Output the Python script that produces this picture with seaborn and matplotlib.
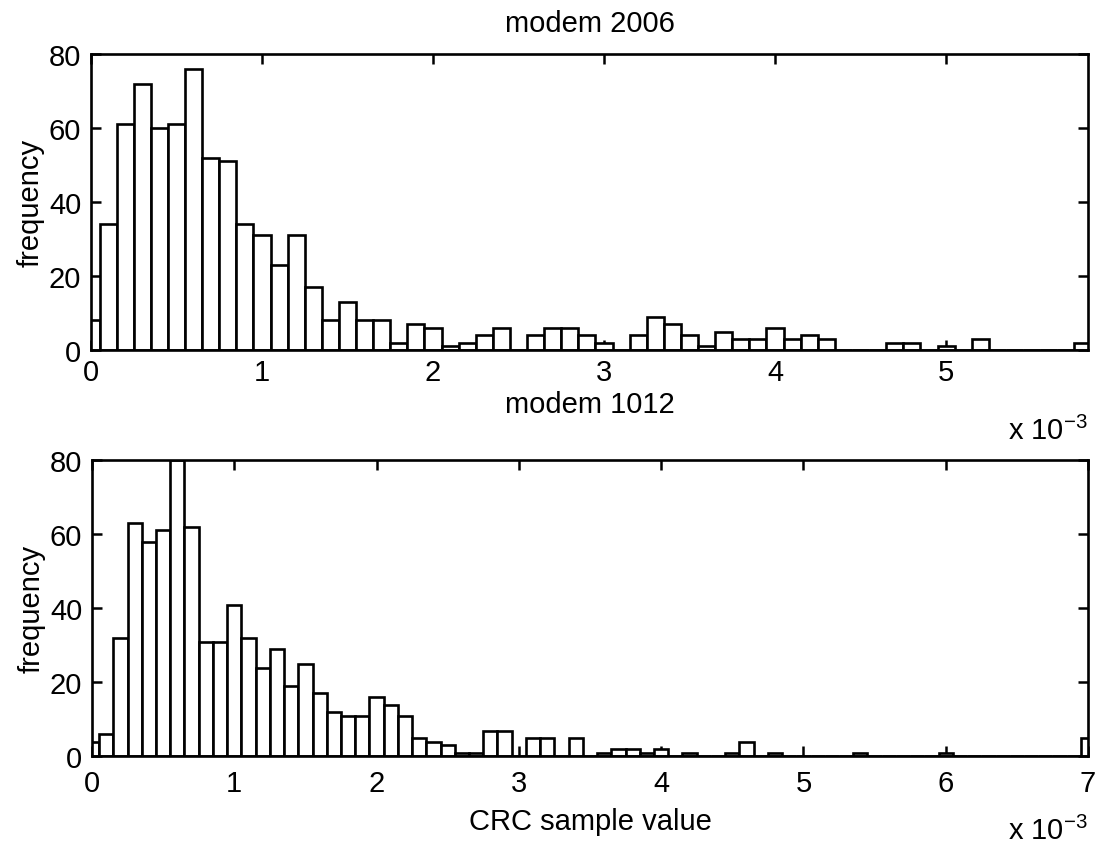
import numpy as np
import pandas as pd
import matplotlib
matplotlib.use("Agg")
import matplotlib.pyplot as plt
import seaborn as sns

# Histogram counts per 0.1e-3 bin, bins centred on 0, 0.1e-3, 0.2e-3, ...
bin_width = 0.1e-3

modem_2006_counts = [
    8, 34, 61, 72, 60, 61, 76, 52, 51, 34,
    31, 23, 31, 17, 8, 13, 8, 8, 2, 7,
    6, 1, 2, 4, 6, 0, 4, 6, 6, 4,
    2, 0, 4, 9, 7, 4, 1, 5, 3, 3,
    6, 3, 4, 3, 0, 0, 0, 2, 2, 0,
    1, 0, 3, 0, 0, 0, 0, 0, 2,
]

modem_1012_counts = [
    4, 6, 32, 63, 58, 61, 80, 62, 31, 31,
    41, 32, 24, 29, 19, 25, 17, 12, 11, 11,
    16, 14, 11, 5, 4, 3, 1, 1, 7, 7,
    0, 5, 5, 0, 5, 0, 1, 2, 2, 1,
    2, 0, 1, 0, 0, 1, 4, 0, 1, 0,
    0, 0, 0, 0, 1, 0, 0, 0, 0, 0,
    1, 0, 0, 0, 0, 0, 0, 0, 0, 0,
    5,
]

panel_titles = ["modem 2006", "modem 1012"]
x_limits = [5.83e-3, 7.0e-3]
x_tick_values = [[0, 1, 2, 3, 4, 5], [0, 1, 2, 3, 4, 5, 6, 7]]
y_tick_values = [0, 20, 40, 60, 80]

FS = 21

sns.set_theme(style="ticks")
plt.rcParams["font.family"] = ["Liberation Sans", "DejaVu Sans"]
plt.rcParams["mathtext.fontset"] = "custom"
plt.rcParams["mathtext.rm"] = "Liberation Sans"
plt.rcParams["mathtext.it"] = "Liberation Sans"
plt.rcParams["text.color"] = "black"
plt.rcParams["axes.labelcolor"] = "black"

fig = plt.figure(figsize=(11.0, 8.45), dpi=100)
ax_top = fig.add_axes([0.0827, 0.5846, 0.9064, 0.3503])
ax_bot = fig.add_axes([0.0836, 0.1036, 0.9055, 0.3508])

panels = [
    (ax_top, modem_2006_counts, panel_titles[0], x_limits[0], x_tick_values[0]),
    (ax_bot, modem_1012_counts, panel_titles[1], x_limits[1], x_tick_values[1]),
]

for i, (ax, counts, title, xmax, xt) in enumerate(panels):
    counts = np.asarray(counts, dtype=float)
    centers = np.arange(len(counts)) * bin_width
    edges = np.append(centers - bin_width / 2, centers[-1] + bin_width / 2)
    df = pd.DataFrame({"value": centers, "count": counts})
    sns.histplot(
        data=df, x="value", weights="count", bins=edges.tolist(), ax=ax,
        color="white", edgecolor="black", linewidth=1.9, alpha=1.0,
    )
    ax.set_xlim(0, xmax)
    ax.set_ylim(0, 80)
    ax.set_xticks(np.array(xt) * 1e-3)
    ax.set_xticklabels([str(v) for v in xt])
    ax.set_yticks(y_tick_values)
    ax.set_yticklabels([str(v) for v in y_tick_values])
    ax.tick_params(axis="both", direction="in", length=7, width=1.8,
                   labelsize=FS, top=True, right=True, colors="black")
    ax.tick_params(axis="y", pad=7)
    ax.tick_params(axis="x", pad=6 if i == 0 else 9)
    for sp in ax.spines.values():
        sp.set_visible(True)
        sp.set_linewidth(1.9)
        sp.set_color("black")
    ax.set_ylabel("frequency", fontsize=FS, labelpad=3)
    ax.set_title(title, fontsize=FS, y=(1.0777 if i == 0 else 1.162), pad=0)
    ax.text(1.0, -0.30 if i == 0 else -0.278, r"x 10$^{-3}$",
            transform=ax.transAxes, ha="right", va="baseline", fontsize=FS)

ax_top.set_xlabel("")
ax_bot.set_xlabel("CRC sample value", fontsize=FS, labelpad=7)

fig.savefig("out.png", dpi=100, facecolor="white")
